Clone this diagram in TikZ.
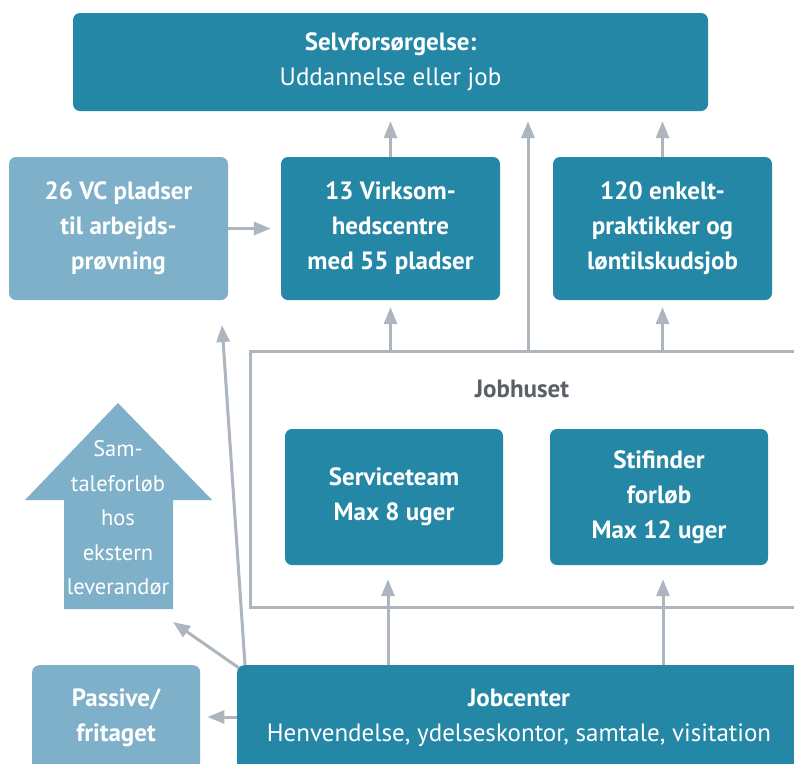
\documentclass[tikz,border=0pt]{standalone}
\usepackage{fontspec}
\setmainfont{PT Sans}
\usetikzlibrary{arrows.meta}
\definecolor{teal}{HTML}{2587A6}
\definecolor{lightb}{HTML}{7EB0C9}
\definecolor{grayl}{HTML}{ADB6BF}
\definecolor{grayt}{HTML}{5A6066}
\tikzset{
  box/.style={rectangle, rounded corners=7pt, fill=teal, text=white, align=center,
    font=\fontsize{25}{35}\selectfont\bfseries, inner sep=0pt},
  lbox/.style={box, fill=lightb},
  txt/.style={text=white, align=center, font=\fontsize{25}{35}\selectfont, inner sep=0pt},
  conn/.style={draw=grayl, line width=3pt, -{Triangle[width=13pt,length=17pt]}},
  frame/.style={draw=grayl, line width=2.8pt}
}
\begin{document}
\begin{tikzpicture}[x=1pt,y=-1pt]
\clip (0,0) rectangle (794,763);
\fill[white] (0,0) rectangle (794,763);
% boxes
\node[box, minimum width=635pt, minimum height=98pt] (selv) at (390.5,62)
  {Selvforsørgelse:\\\mdseries Uddannelse eller job};
\node[lbox, minimum width=219pt, minimum height=143pt] (vc) at (118.5,228.5)
  {26 VC pladser\\til arbejds-\\prøvning};
\node[box, minimum width=219pt, minimum height=143pt] (vir) at (390.5,228.5)
  {13 Virksom-\\hedscentre\\med 55 pladser};
\node[box, minimum width=219pt, minimum height=143pt] (enk) at (662.5,228.5)
  {120 enkelt-\\praktikker og\\løntilskudsjob};
% Jobhuset frame
\node[minimum width=560pt, minimum height=255pt, inner sep=0pt] (jh) at (531,479.5) {};
\draw[frame] (jh.north east) -- (jh.north west) -- (jh.south west) -- (jh.south east);
\node[text=grayt, font=\fontsize{25}{28}\selectfont\bfseries, inner sep=0pt] (jhl) at (522,389) {Jobhuset};
\node[box, minimum width=218pt, minimum height=136pt] (serv) at (394,497)
  {Serviceteam\\Max 8 uger};
\node[box, minimum width=218pt, minimum height=136pt] (stif) at (659,497)
  {Stifinder\\forløb\\Max 12 uger};
% bottom boxes
\node[box, anchor=north west, minimum width=580pt, minimum height=120pt] (jc) at (237,665) {};
\node[txt] (jct) at (519,718) {\bfseries Jobcenter\\Henvendelse, ydelseskontor, samtale, visitation};
\node[lbox, anchor=north west, minimum width=168pt, minimum height=120pt] (pas) at (32,665) {};
\node[txt, font=\fontsize{25}{35}\selectfont\bfseries] (past) at (116,718) {Passive/\\fritaget};
% big arrow
\fill[lightb] (118,403) -- (212,500) -- (173,500) -- (173,609) -- (64,609) -- (64,500) -- (25,500) -- cycle;
\node[txt, font=\fontsize{22.5}{34.5}\selectfont] (sam) at (118,518) {Sam-\\taleforløb\\hos\\ekstern\\leverandør};
% connectors
\coordinate (vtip) at (222,325);
\coordinate (stip) at (173,622);
\draw[conn, shorten >=10pt] (vc.east) -- (vir.west);
\draw[conn, shorten >=10pt] (vir.north) -- (selv.south -| vir.north);
\draw[conn, shorten >=10pt] (enk.north) -- (selv.south -| enk.north);
\draw[conn, shorten >=10pt] (jh.north -| 528,0) -- (selv.south -| 528,0);
\draw[conn, shorten >=7pt] (jh.north -| vir.south) -- (vir.south);
\draw[conn, shorten >=7pt] (jh.north -| enk.south) -- (enk.south);
\draw[conn, shorten >=14pt] (jc.north -| 388,0) -- (serv.south -| 388,0);
\draw[conn, shorten >=14pt] (jc.north -| 663,0) -- (stif.south -| 663,0);
\draw[conn] ([xshift=8pt]jc.north west) -- (vtip);
\draw[conn] ([xshift=2pt,yshift=-3pt]jc.north west) -- (stip);
\draw[conn, shorten >=7pt] (jc.west |- 0,717) -- (pas.east |- 0,717);
\end{tikzpicture}
\end{document}
